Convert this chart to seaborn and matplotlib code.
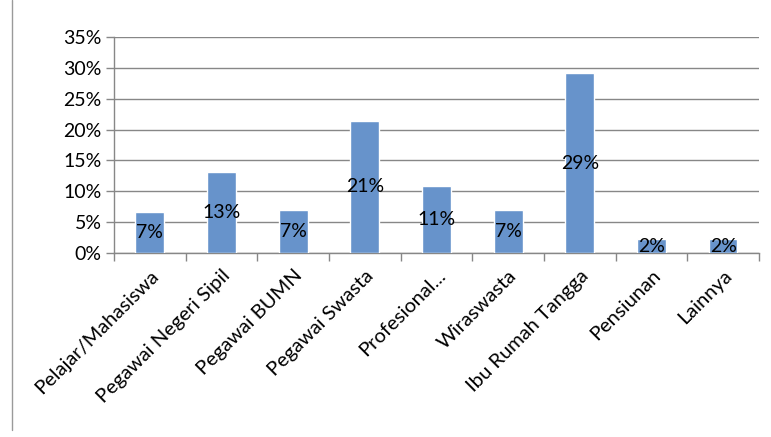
import matplotlib
matplotlib.use("Agg")
import matplotlib.pyplot as plt
import seaborn as sns
import pandas as pd
from matplotlib.ticker import FixedLocator, FuncFormatter
from matplotlib.lines import Line2D

categories = ["Pelajar/Mahasiswa", "Pegawai Negeri Sipil", "Pegawai BUMN",
              "Pegawai Swasta", "Profesional...", "Wiraswasta",
              "Ibu Rumah Tangga", "Pensiunan", "Lainnya"]
values = [6.6, 13.1, 7.0, 21.4, 10.9, 7.0, 29.1, 2.2, 2.2]
yticks = [0, 5, 10, 15, 20, 25, 30, 35]

sns.set_theme(style="white")
plt.rcParams["font.family"] = ["Lato", "DejaVu Sans"]

df = pd.DataFrame({"cat": categories, "val": values})

fig = plt.figure(figsize=(7.71, 4.37), dpi=100)
ax = fig.add_axes([114/771, 1-253/437, (759-114)/771, (253-37)/437])

grid_c = "#878787"
sns.barplot(data=df, x="cat", y="val", color="#6793CB", width=0.4,
            saturation=1, ax=ax, zorder=3)

ax.set_ylim(0, 35)
ax.set_xlim(-0.5, len(categories) - 0.5)
ax.set_yticks(yticks)
ax.yaxis.set_major_formatter(FuncFormatter(lambda v, p: f"{int(v)}%"))
ax.grid(axis="y", color=grid_c, linewidth=1.0, zorder=0)
ax.set_axisbelow(True)
ax.set_xlabel("")
ax.set_ylabel("")

for s in ["top", "right"]:
    ax.spines[s].set_visible(False)
for s in ["left", "bottom"]:
    ax.spines[s].set_color(grid_c)
    ax.spines[s].set_linewidth(1.0)

ax.tick_params(axis="y", which="major", left=True, length=6, width=1,
               color=grid_c, labelsize=14, pad=3, labelcolor="#000000")
ax.set_xticks(range(len(categories)))
ax.set_xticklabels(categories, rotation=45, ha="right", rotation_mode="anchor",
                   fontsize=14.5, color="#000000")
ax.tick_params(axis="x", which="major", length=0, pad=10)
ax.xaxis.set_minor_locator(FixedLocator([i - 0.5 for i in range(len(categories) + 1)]))
ax.tick_params(axis="x", which="minor", bottom=True, length=6, width=1, color=grid_c)

for i, v in enumerate(values):
    ax.text(i, v / 2, f"{int(v + 0.5)}%", ha="center", va="center",
            fontsize=14, color="#000000", zorder=5)

fig.add_artist(Line2D([12/771, 12/771], [1 - 430/437, 1.0],
                      transform=fig.transFigure, color="#9a9a9a", linewidth=1))

fig.savefig("out.png", dpi=100)
